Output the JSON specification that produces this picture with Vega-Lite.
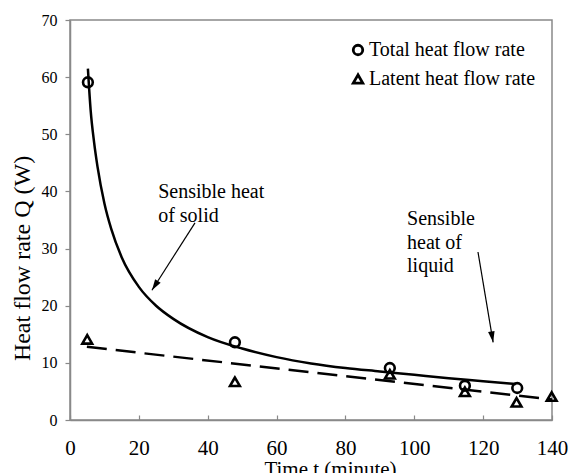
{
  "$schema": "https://vega.github.io/schema/vega-lite/v6.json",
  "width": 482,
  "height": 400,
  "autosize": {"type": "none"},
  "padding": {"left": 70, "top": 20, "right": 18, "bottom": 53},
  "background": "white",
  "config": {
    "view": {"stroke": "#898989", "strokeWidth": 1.5},
    "font": "Liberation Serif"
  },
  "datasets": {
    "obs": [
      {"t": 5.2, "Q": 59.1, "series": "Total heat flow rate"},
      {"t": 47.9, "Q": 13.6, "series": "Total heat flow rate"},
      {"t": 92.9, "Q": 9.1, "series": "Total heat flow rate"},
      {"t": 114.7, "Q": 6.0, "series": "Total heat flow rate"},
      {"t": 129.9, "Q": 5.6, "series": "Total heat flow rate"},
      {"t": 5.0, "Q": 14.1, "series": "Latent heat flow rate"},
      {"t": 47.9, "Q": 6.7, "series": "Latent heat flow rate"},
      {"t": 92.9, "Q": 8.0, "series": "Latent heat flow rate"},
      {"t": 114.7, "Q": 4.95, "series": "Latent heat flow rate"},
      {"t": 129.7, "Q": 3.1, "series": "Latent heat flow rate"},
      {"t": 139.9, "Q": 4.1, "series": "Latent heat flow rate"}
    ],
    "fitTotal": [
      {"t": 5.2, "Q": 61.5},
      {"t": 6, "Q": 54.2},
      {"t": 7, "Q": 48.6},
      {"t": 8, "Q": 44.3},
      {"t": 10, "Q": 37.9},
      {"t": 12, "Q": 33.4},
      {"t": 15, "Q": 28.5},
      {"t": 20, "Q": 23.3},
      {"t": 25, "Q": 20.0},
      {"t": 30, "Q": 17.7},
      {"t": 40, "Q": 14.5},
      {"t": 50, "Q": 12.5},
      {"t": 60, "Q": 11.0},
      {"t": 70, "Q": 9.9},
      {"t": 80, "Q": 9.1},
      {"t": 90, "Q": 8.5},
      {"t": 100, "Q": 7.9},
      {"t": 110, "Q": 7.3},
      {"t": 120, "Q": 6.8},
      {"t": 129.5, "Q": 6.3}
    ],
    "fitLatent": [
      {"t": 4.9, "Q": 12.8},
      {"t": 140, "Q": 3.6}
    ],
    "arrows": [
      {"name": "solid", "x": 36.3, "y": 34.5, "x2": 23.8, "y2": 22.7},
      {"name": "liquid", "x": 118.5, "y": 29.4, "x2": 122.9, "y2": 13.6}
    ],
    "notes": [
      {"t": 25.6, "Q": 38.85, "text": "Sensible heat\nof solid"},
      {"t": 97.9, "Q": 34.1, "text": "Sensible\nheat of\nliquid"}
    ]
  },
  "layer": [
    {
      "data": {"name": "fitTotal"},
      "mark": {"type": "line", "color": "black", "strokeWidth": 2.5, "interpolate": "monotone"},
      "encoding": {
        "x": {
          "field": "t", "type": "quantitative",
          "scale": {"domain": [0, 140], "nice": false},
          "axis": {
            "title": "Time t (minute)",
            "values": [0, 20, 40, 60, 80, 100, 120, 140],
            "grid": false,
            "domainColor": "#898989", "domainWidth": 1.5,
            "tickColor": "#898989", "tickWidth": 1.2, "tickSize": -5,
            "labelFont": "Liberation Serif", "labelFontSize": 21, "labelColor": "black",
            "labelPadding": 22, "labelFlush": false,
            "titleFont": "Liberation Serif", "titleFontSize": 21, "titleFontWeight": "normal", "titleColor": "black",
            "titleX": 260, "titleY": 38, "titleBaseline": "top"
          }
        },
        "y": {
          "field": "Q", "type": "quantitative",
          "scale": {"domain": [0, 70], "nice": false},
          "axis": {
            "title": "Heat flow rate Q (W)",
            "values": [0, 10, 20, 30, 40, 50, 60, 70],
            "grid": false,
            "domainColor": "#898989", "domainWidth": 1.5,
            "tickColor": "#898989", "tickWidth": 1.2, "tickSize": 5,
            "labelFont": "Liberation Serif", "labelFontSize": 16, "labelColor": "black",
            "labelPadding": 8,
            "titleFont": "Liberation Serif", "titleFontSize": 24, "titleFontWeight": "normal", "titleColor": "black",
            "titleAngle": -90, "titleAlign": "center", "titleBaseline": "middle",
            "titleX": -48, "titleY": 238
          }
        }
      }
    },
    {
      "data": {"name": "fitLatent"},
      "mark": {"type": "line", "color": "black", "strokeWidth": 2.5, "strokeDash": [20, 9]},
      "encoding": {
        "x": {"field": "t", "type": "quantitative"},
        "y": {"field": "Q", "type": "quantitative"}
      }
    },
    {
      "data": {"name": "obs"},
      "mark": {"type": "point", "filled": false, "stroke": "black", "strokeWidth": 2.6, "opacity": 1},
      "encoding": {
        "x": {"field": "t", "type": "quantitative"},
        "y": {"field": "Q", "type": "quantitative"},
        "shape": {
          "field": "series", "type": "nominal",
          "scale": {"domain": ["Total heat flow rate", "Latent heat flow rate"], "range": ["circle", "triangle-up"]},
          "legend": {
            "title": null,
            "orient": "none",
            "legendX": 278,
            "legendY": 20,
            "labelFont": "Liberation Serif",
            "labelFontSize": 20,
            "labelColor": "black",
            "labelLimit": 300,
            "labelOffset": 1,
            "symbolStrokeColor": "black",
            "symbolStrokeWidth": 2.8,
            "symbolFillColor": "transparent",
            "symbolSize": 90,
            "rowPadding": 8,
            "padding": 0
          }
        },
        "size": {"value": 95}
      }
    },
    {
      "data": {"name": "arrows"},
      "mark": {"type": "rule", "color": "black", "strokeWidth": 1.2},
      "encoding": {
        "x": {"field": "x", "type": "quantitative"},
        "y": {"field": "y", "type": "quantitative"},
        "x2": {"field": "x2"},
        "y2": {"field": "y2"}
      }
    },
    {
      "data": {"name": "arrows"},
      "transform": [{"filter": "datum.name === 'solid'"}],
      "mark": {"type": "point", "shape": "M0,0L-0.3,1L0.3,1Z", "filled": true, "color": "black", "opacity": 1, "size": 484, "angle": 212.7},
      "encoding": {
        "x": {"field": "x2", "type": "quantitative"},
        "y": {"field": "y2", "type": "quantitative"}
      }
    },
    {
      "data": {"name": "arrows"},
      "transform": [{"filter": "datum.name === 'liquid'"}],
      "mark": {"type": "point", "shape": "M0,0L-0.3,1L0.3,1Z", "filled": true, "color": "black", "opacity": 1, "size": 484, "angle": 170.5},
      "encoding": {
        "x": {"field": "x2", "type": "quantitative"},
        "y": {"field": "y2", "type": "quantitative"}
      }
    },
    {
      "data": {"name": "notes"},
      "transform": [{"calculate": "split(datum.text, '\\n')", "as": "lines"}],
      "mark": {"type": "text", "align": "left", "baseline": "alphabetic", "font": "Liberation Serif", "fontSize": 20, "lineHeight": 23.5, "color": "black"},
      "encoding": {
        "x": {"field": "t", "type": "quantitative"},
        "y": {"field": "Q", "type": "quantitative"},
        "text": {"field": "lines"}
      }
    }
  ]
}
